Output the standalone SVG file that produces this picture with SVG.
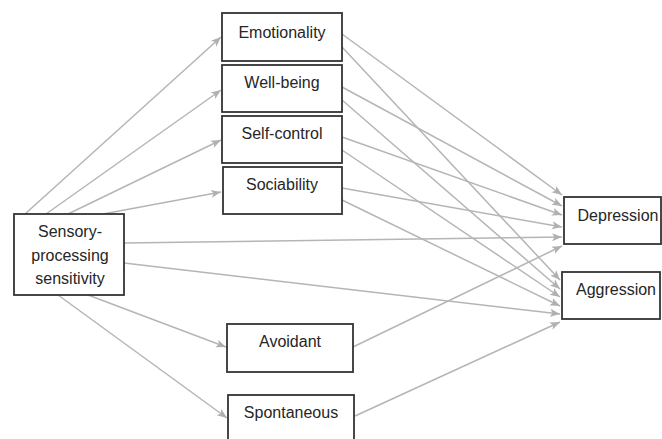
<svg xmlns="http://www.w3.org/2000/svg" width="662" height="439" viewBox="0 0 662 439">
<style>
.box{fill:#fff;stroke:#333;stroke-width:1.8}
.lbl{font-family:"Liberation Sans",Arial,sans-serif;font-size:16px;fill:#262626;text-anchor:middle}
.c{stroke:#b5b5b5;stroke-width:1.5;fill:none;marker-end:url(#ah)}
</style>
<defs>
<marker id="ah" markerUnits="userSpaceOnUse" markerWidth="10" markerHeight="10" viewBox="0 0 10 10" refX="10" refY="5" orient="auto">
<path d="M0,1 L10,5 L0,9 L2.5,5 Z" fill="#b0b0b0"/>
</marker>
</defs>
<rect width="662" height="439" fill="#fff"/>
<g id="connectors">
<line class="c" x1="25" y1="214" x2="221" y2="37"/>
<line class="c" x1="46" y1="214" x2="221" y2="90"/>
<line class="c" x1="68" y1="214" x2="221" y2="140"/>
<line class="c" x1="103" y1="214" x2="221" y2="192"/>
<line class="c" x1="124" y1="243" x2="562" y2="237"/>
<line class="c" x1="124" y1="263" x2="560" y2="314"/>
<line class="c" x1="88" y1="295" x2="226" y2="347"/>
<line class="c" x1="58" y1="295" x2="227" y2="418"/>
<line class="c" x1="342" y1="34" x2="562" y2="195"/>
<line class="c" x1="342" y1="47" x2="560" y2="280"/>
<line class="c" x1="342" y1="87" x2="562" y2="206"/>
<line class="c" x1="342" y1="100" x2="560" y2="289"/>
<line class="c" x1="342" y1="137" x2="562" y2="215"/>
<line class="c" x1="342" y1="150" x2="560" y2="297"/>
<line class="c" x1="342" y1="188" x2="562" y2="227"/>
<line class="c" x1="342" y1="200" x2="560" y2="306"/>
<line class="c" x1="353" y1="347" x2="562" y2="246"/>
<line class="c" x1="355" y1="416" x2="560" y2="322"/>
</g>
<g id="emotionality"><rect class="box" x="222" y="13" width="120" height="48"/><text class="lbl" x="282" y="38">Emotionality</text></g>
<g id="wellbeing"><rect class="box" x="222" y="65" width="120" height="47"/><text class="lbl" x="282" y="88">Well-being</text></g>
<g id="selfcontrol"><rect class="box" x="222" y="116" width="120" height="47"/><text class="lbl" x="282" y="139">Self-control</text></g>
<g id="sociability"><rect class="box" x="223" y="167" width="119" height="47"/><text class="lbl" x="282" y="190">Sociability</text></g>
<g id="sps"><rect class="box" x="14" y="214" width="110" height="81"/><text class="lbl" x="70" y="237">Sensory-</text><text class="lbl" x="70" y="261">processing</text><text class="lbl" x="70" y="284">sensitivity</text></g>
<g id="avoidant"><rect class="box" x="227" y="324" width="126" height="48"/><text class="lbl" x="290" y="347">Avoidant</text></g>
<g id="spontaneous"><rect class="box" x="228" y="395" width="126" height="50"/><text class="lbl" x="291" y="418">Spontaneous</text></g>
<g id="depression"><rect class="box" x="564" y="197" width="97" height="47"/><text class="lbl" x="618" y="221">Depression</text></g>
<g id="aggression"><rect class="box" x="562" y="272" width="98" height="47"/><text class="lbl" x="616" y="295">Aggression</text></g>
</svg>
